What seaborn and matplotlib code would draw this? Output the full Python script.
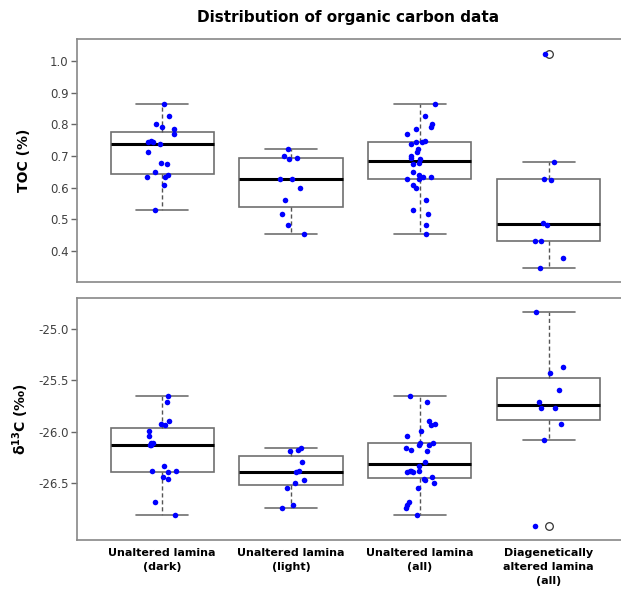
import numpy as np
import pandas as pd
import seaborn as sns
import matplotlib
matplotlib.use("Agg")
import matplotlib.pyplot as plt

groups = ["Unaltered lamina\n(dark)", "Unaltered lamina\n(light)",
          "Unaltered lamina\n(all)", "Diagenetically\naltered lamina\n(all)"]

toc_dark = [0.864, 0.827, 0.800, 0.793, 0.785, 0.769, 0.748, 0.745, 0.743, 0.738,
            0.713, 0.677, 0.676, 0.650, 0.639, 0.635, 0.632, 0.608, 0.530]
toc_light = [0.722, 0.701, 0.695, 0.691, 0.628, 0.627, 0.599, 0.561, 0.518, 0.482, 0.454]
toc_altered = [1.022, 0.681, 0.627, 0.623, 0.488, 0.481, 0.431, 0.431, 0.378, 0.347]

d13c_dark = [-25.647, -25.711, -25.893, -25.922, -25.932, -25.991, -26.036, -26.104,
             -26.107, -26.124, -26.127, -26.331, -26.377, -26.377, -26.393, -26.439,
             -26.455, -26.679, -26.812]
d13c_light = [-26.159, -26.172, -26.182, -26.293, -26.377, -26.390, -26.468, -26.494,
              -26.543, -26.709, -26.741]
d13c_altered = [-24.834, -25.367, -25.432, -25.594, -25.711, -25.767, -25.773,
                -25.919, -26.081, -26.916]


def long_frame(dark, light, altered):
    rows = []
    for name, vals in zip(groups, [dark, light, dark + light, altered]):
        for v in vals:
            rows.append((name, v))
    return pd.DataFrame(rows, columns=["group", "value"])


df_toc = long_frame(toc_dark, toc_light, toc_altered)
df_d13c = long_frame(d13c_dark, d13c_light, d13c_altered)

sns.set_style("white")
plt.rcParams["font.family"] = ["DejaVu Sans"]
plt.rcParams["text.color"] = "black"
plt.rcParams["axes.labelcolor"] = "black"

fig = plt.figure(figsize=(6.21, 5.93), dpi=100)
ax1 = fig.add_axes([0.124, 0.5245, 0.876, 0.4095])
ax2 = fig.add_axes([0.124, 0.0894, 0.876, 0.4081])

grey = "#707070"
box_kws = dict(
    order=groups, width=0.8, color="white", linecolor=grey, linewidth=1.2,
    whis=1.6,
    medianprops=dict(color="black", linewidth=2.2),
    whiskerprops=dict(color="#555555", linestyle=(0, (3, 2)), linewidth=1.0),
    capprops=dict(color=grey, linewidth=1.2),
    flierprops=dict(marker="o", markerfacecolor="white", markeredgecolor="#333333",
                    markersize=5.5, markeredgewidth=0.9),
)

np.random.seed(3)
for ax, df in [(ax1, df_toc), (ax2, df_d13c)]:
    sns.boxplot(data=df, x="group", y="value", ax=ax, **box_kws)
    sns.stripplot(data=df, x="group", y="value", ax=ax, order=groups,
                  color="#0000ff", size=4, jitter=0.12, marker="o", linewidth=0,
                  zorder=5)
    ax.set_xlim(-0.66, 3.56)
    ax.set_xlabel("")
    for s in ax.spines.values():
        s.set_visible(True)
        s.set_color("#888888")
        s.set_linewidth(1.2)
    ax.spines["right"].set_visible(False)
    ax.tick_params(axis="y", which="major", left=True, length=4, width=1,
                   color="#666666", labelsize=8.5, labelcolor="#404040", pad=2)

ax1.set_ylim(0.302, 1.069)
ax1.set_yticks([0.4, 0.5, 0.6, 0.7, 0.8, 0.9, 1.0])
ax1.set_xticks([])
ax1.set_ylabel("TOC (%)", fontsize=10, fontweight="bold")

ax2.set_ylim(-27.05, -24.70)
ax2.set_yticks([-26.5, -26.0, -25.5, -25.0])
ax2.set_yticklabels(["-26.5", "-26.0", "-25.5", "-25.0"])
ax2.set_ylabel(r"δ$^{\mathbf{13}}$C (‰)", fontsize=10, fontweight="bold")
ax2.tick_params(axis="x", bottom=False, length=0, pad=6, labelcolor="black")
ax2.set_xticks(range(len(groups)))
ax2.set_xticklabels(groups, fontsize=8, fontweight="bold", linespacing=1.45,
                    va="top")

ax1.yaxis.set_label_coords(-0.085, 0.5)
ax2.yaxis.set_label_coords(-0.085, 0.5)

fig.text(0.124 + 0.8745 / 2, 0.971, "Distribution of organic carbon data",
         ha="center", va="center", fontsize=11, fontweight="bold", color="black")

fig.savefig("out.png", dpi=100)
